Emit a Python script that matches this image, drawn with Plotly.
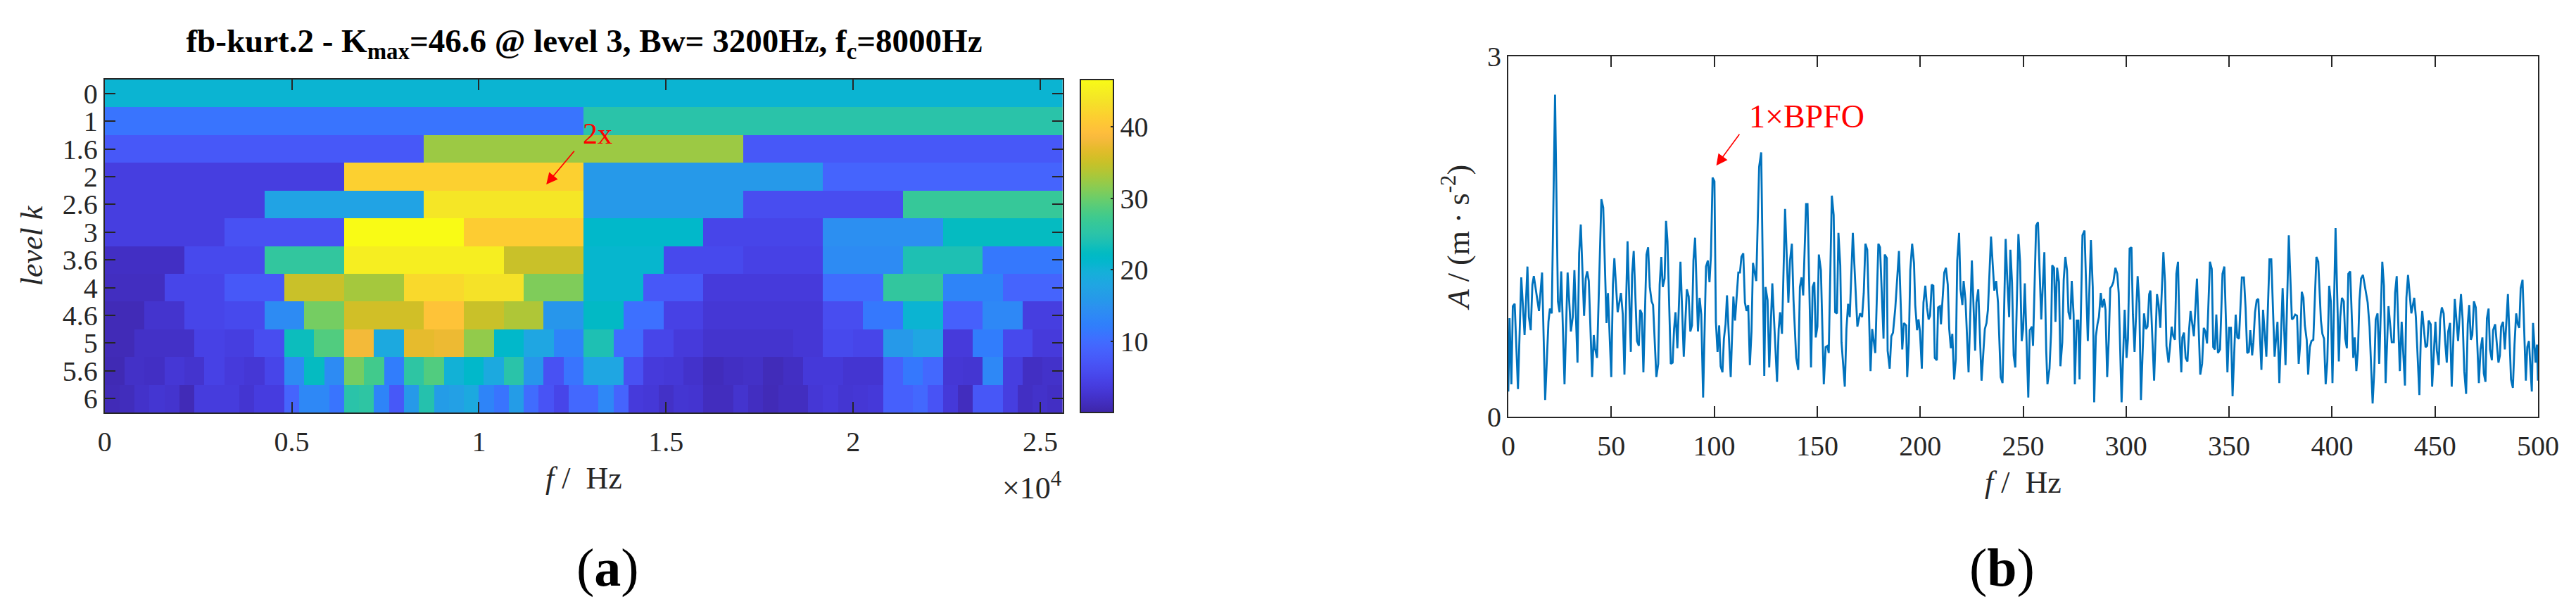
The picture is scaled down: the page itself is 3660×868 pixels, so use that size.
import numpy as np
import plotly.graph_objects as go

# ---------- panel (a): kurtogram, one list per decomposition level ----------
level_labels = ["0", "1", "1.6", "2", "2.6", "3", "3.6", "4", "4.6", "5", "5.6", "6"]
lv_0 = [20.5]
lv_1 = [11, 25]
lv_1_6 = [7.5, 32.5, 7.5]
lv_2 = [4, 41.5, 16, 9]
lv_2_6 = [4, 17.5, 44, 16, 6, 26.5]
lv_3 = [4, 6.5, 46.6, 41, 21.5, 5, 14.5, 22.5]
lv_3_6 = [1.8, 5.5, 26, 45, 45, 35, 21, 5.5, 4.5, 14, 24, 11.5]
lv_4 = [1.5, 5, 7.5, 35, 33, 42.5, 43.5, 31, 21, 7.5, 3.5, 3.5, 10, 26, 13, 9]
lv_4_6 = [1, 2.5, 5, 5.5, 14, 30.5, 35.5, 35.5, 40, 35, 33.5, 15.5,
          22, 10.5, 4.5, 3, 3, 3, 6, 11.5, 20.5, 8.5, 13.5, 4]
lv_5 = [1, 2, 2, 4.5, 4, 6, 23, 28.5, 38, 18.5, 37, 37.5, 32, 21.5, 18, 13,
        24, 10, 5, 3.5, 2.5, 2.5, 2.5, 3, 5.5, 5, 16, 18, 3.5, 12, 5.5, 3.5]
lv_5_6 = [0.8, 2, 1.8, 3, 2.5, 4.5, 3.5, 3, 5, 14, 22.5, 14, 30.5, 27.5, 12, 25.5,
          28.5, 20, 21.5, 18.5, 25, 15.5, 6.5, 11,
          18, 18, 6.5, 3.5, 3.2, 2.3, 1.2, 1.7, 2, 1.1, 1.7, 3.3, 3.3, 2.7, 2.7, 8.5,
          11.5, 9.5, 3, 2.8, 13.5, 4, 1.7, 2.2]
lv_6 = [1, 1.3, 2.2, 2.8, 2.5, 1, 3.7, 3.7, 3.7, 2.7, 3.8, 3.8, 9, 13.5, 13.5, 11,
        25, 25.5, 13, 7.5, 16, 24.5, 16.5, 17, 18.5, 13, 11, 16.5, 10, 6.8, 5, 9.5,
        9.5, 13.5, 9, 3.5, 3.2, 2, 2.8, 2.6, 1.4, 1.4, 2.5, 1.6, 1, 1.5, 1.5, 3,
        3.5, 2.8, 3, 3.3, 8.5, 8.5, 9.5, 6.8, 3.3, 1.4, 7.3, 7.3, 4, 1.7, 2.2, 1.8]
levels = [lv_0, lv_1, lv_1_6, lv_2, lv_2_6, lv_3, lv_3_6, lv_4, lv_4_6, lv_5, lv_5_6, lv_6]
freq_max_a = 25600
fine_cols = 192
x_ticks_a = [0, 5000, 10000, 15000, 20000, 25000]
x_ticklabels_a = ["0", "0.5", "1", "1.5", "2", "2.5"]
cbar_ticks = [10, 20, 30, 40]

parula = [
    (0.2422,0.1504,0.6603),(0.2504,0.1650,0.7076),(0.2578,0.1818,0.7511),(0.2647,0.1978,0.7952),
    (0.2706,0.2147,0.8364),(0.2751,0.2342,0.8710),(0.2783,0.2559,0.8991),(0.2803,0.2782,0.9221),
    (0.2813,0.3006,0.9414),(0.2810,0.3228,0.9579),(0.2795,0.3447,0.9717),(0.2760,0.3667,0.9829),
    (0.2699,0.3892,0.9906),(0.2602,0.4123,0.9952),(0.2440,0.4358,0.9988),(0.2206,0.4603,0.9973),
    (0.1963,0.4847,0.9892),(0.1834,0.5074,0.9798),(0.1786,0.5289,0.9682),(0.1764,0.5499,0.9520),
    (0.1687,0.5703,0.9359),(0.1540,0.5902,0.9218),(0.1460,0.6091,0.9079),(0.1380,0.6276,0.8973),
    (0.1248,0.6459,0.8883),(0.1113,0.6635,0.8763),(0.0952,0.6798,0.8598),(0.0689,0.6948,0.8394),
    (0.0297,0.7082,0.8163),(0.0036,0.7203,0.7917),(0.0067,0.7312,0.7660),(0.0433,0.7411,0.7394),
    (0.0964,0.7500,0.7120),(0.1408,0.7584,0.6842),(0.1717,0.7670,0.6554),(0.1938,0.7758,0.6251),
    (0.2161,0.7843,0.5923),(0.2470,0.7918,0.5567),(0.2906,0.7973,0.5188),(0.3406,0.8008,0.4789),
    (0.3909,0.8029,0.4354),(0.4456,0.8024,0.3909),(0.5044,0.7993,0.3480),(0.5616,0.7942,0.3045),
    (0.6174,0.7876,0.2612),(0.6720,0.7793,0.2227),(0.7242,0.7698,0.1910),(0.7738,0.7598,0.1646),
    (0.8203,0.7498,0.1535),(0.8634,0.7406,0.1596),(0.9035,0.7330,0.1774),(0.9393,0.7288,0.2100),
    (0.9728,0.7298,0.2394),(0.9956,0.7434,0.2371),(0.9970,0.7659,0.2199),(0.9952,0.7893,0.2028),
    (0.9892,0.8136,0.1885),(0.9786,0.8386,0.1766),(0.9676,0.8639,0.1643),(0.9610,0.8890,0.1537),
    (0.9597,0.9135,0.1423),(0.9628,0.9373,0.1265),(0.9691,0.9606,0.1064),(0.9769,0.9839,0.0805),
]

# ---------- panel (b): envelope spectrum ----------
freq_hz = [
 0,0.6,1.5,2.2,3.1,4.7,6.3,7.9,9.3,10,10.9,11.7,12.4,14.9,16.4,17.9,19.5,20.2,21.1,22.7,
 24.1,24.9,25.7,27.3,28.8,30.4,31.3,32.1,33.6,34.4,35.2,36.8,37.6,38.3,39.1,40.7,41.5,42.1,43.1,45.2,
 46.1,47.7,48.4,50,50.8,51.5,53.1,54.7,55.6,56.4,57.9,59.5,60.1,60.9,62.5,63.4,64,64.8,65.6,67.1,
 67.9,68.7,69.6,70.3,71.9,72.8,73.5,74.3,75,75.9,76.6,77.3,78.9,79.8,80.5,81.2,82.1,83.6,85.2,86.7,
 87.6,88.4,89.2,89.9,90.7,92.1,92.9,93.7,94.6,96,96.9,97.7,98.4,99.2,100.1,100.8,101.6,102.4,103.1,104,
 104.7,105.5,106.2,108,109.3,110.1,111.7,112.5,113.2,114.1,114.9,115.7,116.5,117.3,118.1,118.8,120.4,121.8,122.8,124.3,
 124.9,125.9,126.7,128.2,130.5,131.3,132,132.9,134.4,136,136.8,137.7,138.5,139.8,140.8,141.6,142.4,143.2,144.6,145.3,
 147,147.8,148.6,149.3,150.1,150.8,151.8,153.2,154.1,155,155.6,157.1,158,158.7,159.6,160.3,161.2,161.8,163.4,164.2,
 165,165.8,167.3,169.5,170.8,171.8,172.6,173.4,174.3,175.9,176.7,178.2,179.7,180.5,182.2,182.8,183.8,184.2,185.2,186,
 186.8,187.9,189.7,191.3,192.1,193.2,193.7,194.5,195.2,196.1,197,197.6,198.5,199.2,199.9,200.8,201.6,202.5,203.3,204.1,
 204.8,205.6,206.4,207.1,208.1,208.7,209.6,210.1,211.7,212.5,213.4,214.1,214.9,215.6,216.5,217.3,218,218.9,219.6,220.5,
 221.1,222,223.5,225.1,226.7,227.3,228.2,229.8,231.4,232.2,232.9,234.4,236,236.9,237.8,239.1,240,241.5,242.3,243.2,
 243.8,244.6,245.4,246.2,247.7,248.5,249.3,250,250.8,252.5,253.2,254.3,254.8,256.3,257.2,258.8,260.3,261.2,261.8,262.8,
 263.6,264.1,265,265.7,266.5,267.4,268.1,269,269.7,270.5,271.3,272,272.9,273.6,274.5,275.1,276,276.8,277.4,278.8,
 279.8,281.4,282.9,283.8,284.5,285.3,286.1,286.8,287.7,288.4,289.3,290,290.8,291.6,292.3,293.1,293.8,294.8,295.7,296.4,
 297.8,299.3,300.2,300.9,301.7,302.6,303.3,304.1,305.6,306.4,307.2,308.7,309.6,310.4,311.2,311.8,313.6,315,315.8,316.6,
 318.1,318.9,319.6,320.6,321.4,322.1,322.9,323.7,324.4,325.2,326,326.8,327.3,328.1,328.9,329.8,330.6,331.3,332.9,334.4,
 336,336.9,337.7,338.5,339.3,340.7,341.6,342.3,343.1,343.8,344.6,345.6,346.8,347.7,349.2,350,350.9,351.7,353.2,354,
 354.8,356.2,357.2,358,358.8,359.6,360.3,361.2,361.8,362.6,363.4,364.2,365.7,366.5,368.1,369.6,370.5,372.1,373.5,374.4,
 376,377.4,379,380.5,381.2,382.1,383,383.8,384.5,385.3,386.1,386.8,387.7,388.4,389.2,390,390.9,392.4,393.3,394.6,
 395.3,396.1,396.9,397.7,398.6,399.4,400.2,401.7,403.3,404,404.8,405.7,406.4,407.2,407.9,408.8,410.3,411,411.8,412.6,
 413.3,414.1,415,417.3,418.2,419.7,420.5,421.2,422.1,422.9,424.4,425.2,426,426.8,427.4,429,430,430.6,431.4,432.9,
 433.8,435.4,436.1,436.9,438.5,439.9,440.7,442.4,443.2,443.8,445.4,446.2,446.9,447.9,448.6,450.2,450.9,451.8,452.5,453.3,
 454.2,454.9,455.7,456.4,457.3,458.1,459.6,461.2,462.6,463.4,464.2,465.1,465.9,466.6,467.4,468.1,468.9,469.8,471.3,472.1,
 473,473.7,474.5,475.2,476,476.7,477.6,478.2,479.2,480.8,481.5,482.1,483,483.9,485.4,486.9,487.8,488.6,489.4,490.2,
 490.9,491.6,492.5,494.1,494.8,495.6,497,497.6,498.8,499.5,500,
]
amplitude = [
 0.21,0.82,0.27,0.92,0.94,0.23,1.16,0.68,1.25,0.83,0.72,1.10,1.17,0.88,1.20,0.14,0.79,0.90,0.86,2.68,
 0.96,0.87,1.21,0.27,1.20,0.71,0.83,1.22,0.45,1.36,1.60,0.84,1.15,1.21,1.13,0.33,0.68,0.57,0.49,1.81,
 1.74,0.78,1.03,0.33,1.10,1.32,0.87,1.03,0.85,0.35,1.46,0.54,1.18,1.38,0.63,0.59,0.89,0.86,0.37,1.35,
 1.41,1.08,0.96,0.93,0.33,0.44,1.10,1.33,1.08,1.15,1.63,1.46,0.44,0.45,0.73,0.87,0.57,1.29,0.50,1.06,
 1.00,0.71,0.76,1.30,1.49,0.71,0.99,0.85,0.16,1.25,1.30,1.12,1.34,1.99,1.96,0.79,0.54,0.76,0.42,0.37,
 0.65,0.77,1.01,0.33,1.00,0.80,1.20,1.20,1.33,1.36,0.95,0.88,0.93,0.43,0.71,1.28,1.13,2.08,2.20,0.34,
 1.08,0.97,0.41,1.11,0.29,0.73,0.87,0.69,1.73,0.95,1.30,1.44,0.97,0.49,0.39,1.08,1.16,1.01,1.77,1.77,
 0.41,1.08,1.12,0.66,0.75,1.35,1.22,0.27,0.58,0.59,0.53,1.84,1.68,0.87,0.86,1.53,1.26,0.62,0.25,0.73,
 0.94,0.83,1.53,0.75,0.86,0.83,1.03,1.44,1.39,0.38,0.73,0.53,1.44,1.41,0.65,1.35,1.32,0.55,0.40,0.67,
 0.70,0.90,1.38,0.56,0.78,0.76,0.33,0.62,1.22,1.44,1.28,0.93,0.72,0.81,0.71,0.40,0.95,1.09,0.91,0.81,
 0.84,1.10,1.09,0.49,0.47,0.91,0.92,0.77,1.20,1.24,1.10,0.73,0.57,0.69,0.31,0.48,1.30,1.53,1.06,0.93,
 1.13,0.97,0.37,1.30,0.55,0.95,1.06,0.30,0.73,0.78,0.89,1.50,1.05,1.13,0.95,0.33,0.28,1.48,1.14,0.83,
 1.39,1.12,0.51,0.41,1.52,1.29,0.63,0.73,1.11,0.16,0.72,0.75,0.59,1.59,1.62,0.81,1.37,0.55,0.27,0.40,
 0.71,1.26,1.24,0.79,1.24,1.12,0.42,0.62,1.14,1.33,1.22,0.87,0.81,1.13,0.85,0.27,0.80,0.80,0.31,1.51,
 1.55,0.63,1.47,1.08,0.12,0.67,0.77,0.83,1.03,0.91,0.98,0.89,0.33,0.65,1.07,1.09,1.12,1.24,1.19,1.03,
 0.12,0.89,0.49,0.65,1.40,1.41,0.85,0.54,1.17,0.95,0.14,0.86,0.73,0.75,1.02,1.05,0.30,1.02,0.93,0.74,
 1.37,1.12,0.59,0.45,0.60,0.75,0.67,0.64,1.19,1.29,0.65,0.37,0.66,0.70,0.49,0.46,0.73,0.88,0.67,1.15,
 0.35,0.44,0.74,0.71,0.61,1.29,1.23,0.58,0.56,0.85,0.53,0.56,1.19,1.25,0.37,0.74,0.74,0.17,0.85,0.66,
 0.65,1.16,1.16,0.91,0.53,0.54,0.72,0.51,0.62,0.87,0.97,0.98,0.39,0.89,0.50,1.31,1.31,0.50,0.79,0.28,
 1.07,0.43,1.51,0.81,0.82,0.85,0.84,0.44,0.60,1.04,0.99,0.76,0.64,0.35,0.58,0.63,0.64,1.33,1.29,0.80,
 0.69,0.65,0.27,0.46,1.09,0.96,0.28,1.57,0.46,0.83,0.99,0.96,0.65,0.57,1.19,1.21,0.49,0.66,0.38,0.56,
 0.97,1.15,1.18,0.95,0.75,0.11,0.38,0.81,0.86,0.44,1.29,1.09,0.28,0.71,0.92,0.62,0.62,1.03,1.17,0.38,
 0.79,0.26,0.99,1.18,0.86,0.99,0.83,0.18,0.73,0.88,0.58,0.59,0.80,0.77,0.25,0.79,0.55,0.43,0.81,0.91,
 0.86,0.63,0.45,0.71,0.78,0.25,0.98,0.63,1.02,0.81,0.38,0.19,0.77,0.93,0.64,0.68,0.96,0.91,0.28,0.56,
 0.66,0.36,0.29,0.82,0.90,0.56,0.47,0.72,0.77,0.45,0.51,0.75,0.79,0.56,1.02,0.31,0.24,0.60,0.86,0.77,
 0.74,1.07,1.14,0.30,0.58,0.63,0.21,0.78,0.45,0.60,0.30,
]
x_ticks_b = [0, 50, 100, 150, 200, 250, 300, 350, 400, 450, 500]
y_ticks_b = [0, 3]

# ---------- figure ----------
W, H = 3660, 868
FONT = "Liberation Serif"
INK = "#262626"

z = np.array([np.repeat(row, fine_cols // len(row)) for row in levels], dtype=float)
n = len(parula) - 1
colorscale = [[i / n, f"rgb({round(r*255)},{round(g*255)},{round(b*255)})"]
              for i, (r, g, b) in enumerate(parula)]

fig = go.Figure()
fig.add_trace(go.Heatmap(
    z=z, x0=freq_max_a / fine_cols / 2, dx=freq_max_a / fine_cols,
    y=list(range(len(level_labels))),
    zmin=0.05, zmax=46.6, colorscale=colorscale, xaxis="x", yaxis="y",
    colorbar=dict(x=1535 / W, xanchor="left", xpad=0, ypad=0,
                  y=(H - 586) / H, yanchor="bottom",
                  lenmode="pixels", len=473, thicknessmode="pixels", thickness=47,
                  outlinecolor=INK, outlinewidth=2, ticks="inside", ticklen=5,
                  tickcolor=INK, tickwidth=2, tickvals=cbar_ticks,
                  tickfont=dict(family=FONT, size=40, color=INK)),
))
fig.add_trace(go.Scatter(
    x=freq_hz, y=amplitude, mode="lines", xaxis="x2", yaxis="y2",
    line=dict(color="#0072BD", width=2.8), showlegend=False,
))

axis_common = dict(showgrid=False, zeroline=False, showline=True, linecolor=INK, linewidth=2,
                   mirror="ticks", ticks="inside", ticklen=15, tickwidth=1.5, tickcolor=INK,
                   tickfont=dict(family=FONT, size=40, color=INK))
title_font = dict(family=FONT, size=44, color=INK)

fig.update_layout(
    width=W, height=H, margin=dict(l=0, r=0, t=0, b=0, autoexpand=False), autosize=False,
    paper_bgcolor="white", plot_bgcolor="white", showlegend=False,
    title=dict(text="<b>fb-kurt.2 - K<sub>max</sub>=46.6 @ level 3, Bw= 3200Hz, f<sub>c</sub>=8000Hz</b>",
               x=830 / W, xanchor="center", xref="paper", y=1 - 58 / H, yanchor="middle", yref="paper",
               font=dict(family=FONT, size=47, color="black")),
    xaxis=dict(domain=[148.7 / W, 1510 / W], anchor="y", range=[0, freq_max_a],
               tickvals=x_ticks_a, ticktext=x_ticklabels_a, ticklabelstandoff=5,
               title=dict(text="<i>f</i> /  Hz", font=title_font, standoff=14), **axis_common),
    yaxis=dict(domain=[(H - 586) / H, (H - 113) / H], anchor="x", range=[len(levels) - 0.5, -0.5],
               tickvals=list(range(len(level_labels))), ticktext=level_labels,
               title=dict(text="<i>level k</i>", font=title_font, standoff=14), **axis_common),
    xaxis2=dict(domain=[2143 / W, 3606 / W], anchor="y2", range=[0, 500],
                tickvals=x_ticks_b, ticklabelstandoff=5,
                title=dict(text="<i>f</i> /  Hz", font=title_font, standoff=14), **axis_common),
    yaxis2=dict(domain=[(H - 592) / H, (H - 80) / H], anchor="x2", range=[0, 3],
                tickvals=y_ticks_b,
                title=dict(text="<i>A</i> / (m · s<sup>-2</sup>)", font=title_font, standoff=12), **axis_common),
    annotations=[
        dict(text="×10<sup>4</sup>", xref="paper", yref="paper", x=1510 / W, y=1 - 690 / H,
             xanchor="right", yanchor="middle", showarrow=False, font=title_font),
        dict(text="(<b>a</b>)", xref="paper", yref="paper", x=863 / W, y=1 - 806 / H,
             xanchor="center", yanchor="middle", showarrow=False,
             font=dict(family=FONT, size=76, color="black")),
        dict(text="(<b>b</b>)", xref="paper", yref="paper", x=2844 / W, y=1 - 806 / H,
             xanchor="center", yanchor="middle", showarrow=False,
             font=dict(family=FONT, size=76, color="black")),
        dict(text="2x", xref="x", yref="y", x=13170, y=1.45, xanchor="center", yanchor="middle",
             showarrow=False, font=dict(family=FONT, size=42, color="red")),
        dict(text="", xref="x", yref="y", axref="x", ayref="y", x=11800, y=3.28, ax=12570, ay=2.04,
             showarrow=True, arrowhead=2, arrowsize=2, arrowwidth=1.6, arrowcolor="red"),
        dict(text="1×BPFO", xref="x2", yref="y2", x=145, y=2.50, xanchor="center", yanchor="middle",
             showarrow=False, font=dict(family=FONT, size=46, color="red")),
        dict(text="", xref="x2", yref="y2", axref="x2", ayref="y2", x=101, y=2.09, ax=112.6, ay=2.36,
             showarrow=True, arrowhead=2, arrowsize=2, arrowwidth=1.6, arrowcolor="red"),
    ],
)

fig.write_html("out.html", config=dict(displayModeBar=False),
               post_script="document.body.style.margin='0';document.body.style.overflow='hidden';")
